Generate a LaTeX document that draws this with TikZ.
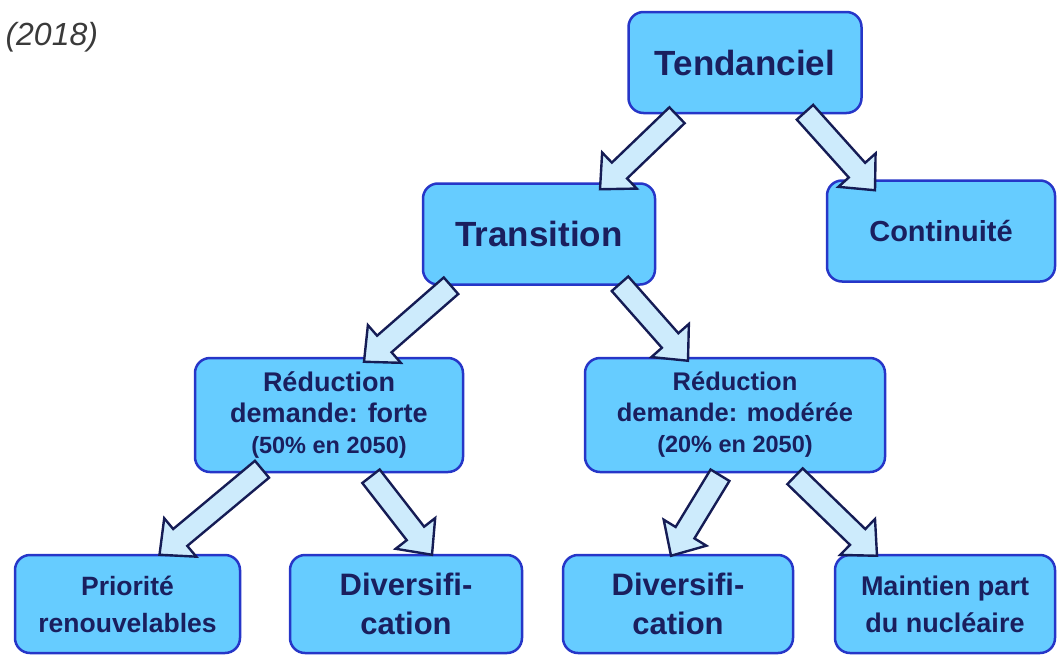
\documentclass[tikz,border=0pt]{standalone}
\usepackage{fontspec}
\setmainfont{Liberation Sans}
\usetikzlibrary{calc}
\definecolor{boxfill}{HTML}{66CCFF}
\definecolor{boxline}{HTML}{2636C8}
\definecolor{txtcol}{HTML}{1A1F5E}
\definecolor{arrfill}{HTML}{CDEBFC}
\definecolor{arrline}{HTML}{151C55}
\definecolor{graytxt}{HTML}{3A3A3A}
\newcommand{\blockarr}[2]{%
  \path (#1) coordinate (ba) (#2) coordinate (bb);
  \path ($(bb)!27pt!(ba)$) coordinate (bh);
  \draw[barrow] ($(ba)!11pt!90:(bb)$) -- ($(bh)!11pt!90:(bb)$) -- ($(bh)!25pt!90:(bb)$) -- (bb)
     -- ($(bh)!25pt!-90:(bb)$) -- ($(bh)!11pt!-90:(bb)$) -- ($(ba)!11pt!-90:(bb)$) -- cycle;
}
\tikzset{
  box/.style={draw=boxline, fill=boxfill, line width=2.5pt, rounded corners=15pt,
    inner sep=0pt, align=center, text=txtcol},
  barrow/.style={draw=arrline, fill=arrfill, line width=2.4pt, line join=miter},
}
\begin{document}
\begin{tikzpicture}[x=1pt,y=-1pt]
\useasboundingbox (0,0) rectangle (1057,656);
\node[anchor=west, text=graytxt, font=\fontsize{32}{38}\selectfont\itshape] (yr) at (2,37) {(2018)};

\node[box, minimum width=233pt, minimum height=101pt, font=\fontsize{35}{42}\selectfont\bfseries] (tend) at (745,62.5) {Tendanciel};
\node[box, minimum width=232pt, minimum height=101pt, font=\fontsize{35}{42}\selectfont\bfseries] (trans) at (539,234) {Transition};
\node[box, minimum width=228pt, minimum height=101pt, font=\fontsize{29}{35}\selectfont\bfseries] (cont) at (941,231) {Continuité};

\node[box, minimum width=268pt, minimum height=114pt, font=\fontsize{27}{31}\selectfont\bfseries] (forte) at (329,415)
  {Réduction\\demande: forte\\{\fontsize{23.5}{33}\selectfont(50\% en 2050)}};
\node[box, minimum width=300pt, minimum height=114pt, font=\fontsize{25.5}{31}\selectfont\bfseries] (mod) at (735,415)
  {Réduction\\demande: modérée\\{\fontsize{23.5}{33}\selectfont(20\% en 2050)}};

\node[box, minimum width=225pt, minimum height=98pt, font=\fontsize{26.5}{37}\selectfont\bfseries] (prio) at (127.5,604)
  {Priorité\\renouvelables};
\node[box, minimum width=232pt, minimum height=98pt, font=\fontsize{31}{39}\selectfont\bfseries] (div1) at (406,604)
  {Diversifi-\\cation};
\node[box, minimum width=230pt, minimum height=98pt, font=\fontsize{31}{39}\selectfont\bfseries] (div2) at (678,604)
  {Diversifi-\\cation};
\node[box, minimum width=220pt, minimum height=98pt, font=\fontsize{27}{37}\selectfont\bfseries] (maint) at (945,604)
  {Maintien part\\du nucléaire};

\blockarr{$(tend.south)+(-68,1)$}{$(trans.north)+(61,7)$}
\blockarr{$(tend.south)+(60,-2)$}{$(cont.north)+(-66,11)$}
\blockarr{$(trans.south)+(-88,0)$}{$(forte.north)+(35,5)$}
\blockarr{$(trans.south)+(81,-2)$}{$(mod.north)+(-47,4)$}
\blockarr{$(forte.south)+(-67,-4)$}{$(prio.north)+(32,1)$}
\blockarr{$(forte.south)+(42,3)$}{$(div1.north)+(26,1)$}
\blockarr{$(mod.south)+(-15,2)$}{$(div2.north)+(-7,2)$}
\blockarr{$(mod.south)+(60,3)$}{$(maint.north)+(-68,2)$}
\end{tikzpicture}
\end{document}
